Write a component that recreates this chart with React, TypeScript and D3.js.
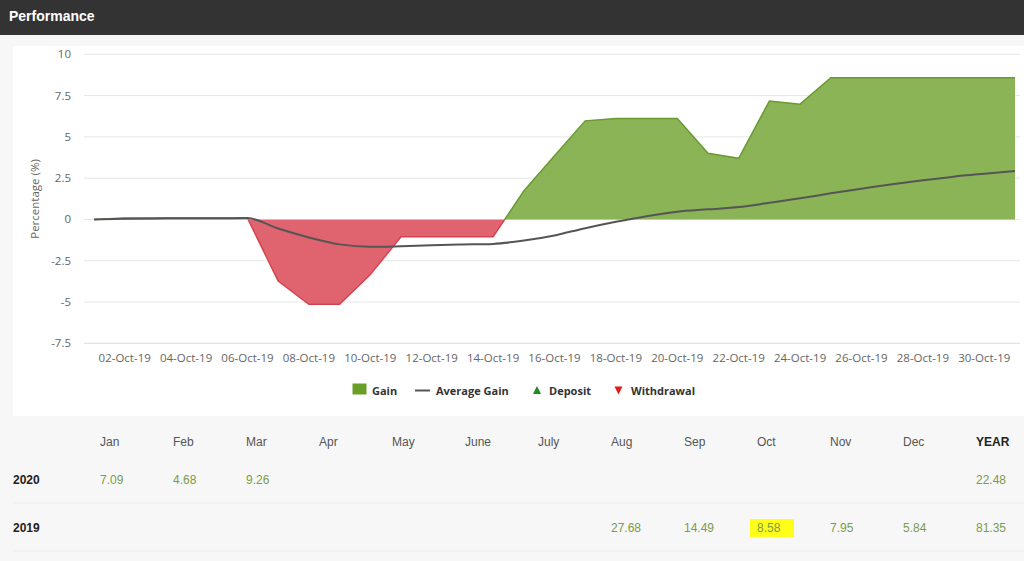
import * as d3 from "d3";

// Daily performance, October 2019
const DAYS = [
  "01-Oct-19", "02-Oct-19", "03-Oct-19", "04-Oct-19", "05-Oct-19", "06-Oct-19",
  "07-Oct-19", "08-Oct-19", "09-Oct-19", "10-Oct-19", "11-Oct-19", "12-Oct-19",
  "13-Oct-19", "14-Oct-19", "15-Oct-19", "16-Oct-19", "17-Oct-19", "18-Oct-19",
  "19-Oct-19", "20-Oct-19", "21-Oct-19", "22-Oct-19", "23-Oct-19", "24-Oct-19",
  "25-Oct-19", "26-Oct-19", "27-Oct-19", "28-Oct-19", "29-Oct-19", "30-Oct-19",
  "31-Oct-19",
];
const GAIN = [
  0, 0.08, 0.08, 0.08, 0.08, 0.08, -3.73, -5.14, -5.14, -3.34, -1.05, -1.05,
  -1.05, -1.05, 1.72, 3.85, 5.97, 6.11, 6.11, 6.11, 4.01, 3.7, 7.17, 6.98,
  8.58, 8.58, 8.58, 8.58, 8.58, 8.58, 8.58,
];
const AVERAGE_GAIN = [
  0, 0.04, 0.06, 0.07, 0.07, 0.08, -0.55, -1.09, -1.51, -1.66, -1.62, -1.56,
  -1.52, -1.48, -1.28, -0.97, -0.53, -0.14, 0.2, 0.47, 0.61, 0.75, 1.01, 1.28,
  1.58, 1.86, 2.13, 2.37, 2.59, 2.77, 2.94,
];
const Y_TICKS = [-7.5, -5, -2.5, 0, 2.5, 5, 7.5, 10];

// Monthly table
const COLUMNS = ["Jan", "Feb", "Mar", "Apr", "May", "June", "July", "Aug", "Sep", "Oct", "Nov", "Dec", "YEAR"];
const YEARS = ["2020", "2019"];
const MONTHLY_2020 = [7.09, 4.68, 9.26, null, null, null, null, null, null, null, null, null];
const MONTHLY_2019 = [null, null, null, null, null, null, null, 27.68, 14.49, 8.58, 7.95, 5.84];
const YEAR_TOTALS = [22.48, 81.35];
const HIGHLIGHT = { year: "2019", month: "Oct" };

const W = 1024;
const H = 561;
const CHART_FONT = "'Open Sans', 'DejaVu Sans', sans-serif";
const TABLE_FONT = "'Liberation Sans', Arial, sans-serif";

export default function App() {
  const x = d3.scalePoint<string>().domain(DAYS).range([94, 1015]);
  const y = d3.scaleLinear().domain([-7.5, 10]).range([343.3, 54.3]);
  const y0 = y(0);

  const area = d3
    .area<number>()
    .x((_, i) => x(DAYS[i])!)
    .y0(y0)
    .y1((d) => y(d));
  const top = d3
    .line<number>()
    .x((_, i) => x(DAYS[i])!)
    .y((d) => y(d));
  const avgLine = d3
    .line<number>()
    .x((_, i) => x(DAYS[i])!)
    .y((d) => y(d))
    .curve(d3.curveMonotoneX);

  const xLabels = DAYS.filter((_, i) => i % 2 === 1);

  const col = d3.scalePoint<string>().domain(COLUMNS).range([100, 976]);
  const headY = 446;
  const rows = [
    { year: YEARS[0], baseline: 484, sep: 503, values: [...MONTHLY_2020, YEAR_TOTALS[0]] },
    { year: YEARS[1], baseline: 532, sep: 551, values: [...MONTHLY_2019, YEAR_TOTALS[1]] },
  ];

  return (
    <div style={{ position: "fixed", left: 0, top: 0, width: W, height: H }}>
      <svg width={W} height={H} style={{ display: "block" }}>
        <defs>
          <clipPath id="above">
            <rect x={0} y={0} width={W} height={y0} />
          </clipPath>
          <clipPath id="below">
            <rect x={0} y={y0} width={W} height={H - y0} />
          </clipPath>
        </defs>

        {/* page */}
        <rect x={0} y={0} width={W} height={H} fill="#f7f7f7" />
        <rect x={0} y={0} width={W} height={35} fill="#333333" />
        <text x={9} y={20.5} fill="#ffffff" fontFamily={TABLE_FONT} fontWeight={700} fontSize={14}>
          Performance
        </text>
        <rect x={13} y={46} width={W - 13} height={370} fill="#ffffff" />

        {/* grid */}
        {Y_TICKS.map((t) => (
          <line
            key={t}
            x1={84}
            x2={1020}
            y1={y(t)}
            y2={y(t)}
            stroke={t === -7.5 ? "#d6dbe4" : "#e6e6e6"}
            strokeWidth={1}
          />
        ))}
        {Y_TICKS.map((t) => (
          <text
            key={t}
            x={71}
            y={y(t)}
            dy="0.35em"
            textAnchor="end"
            fill="#666666"
            fontFamily={CHART_FONT}
            fontSize={11.5}
          >
            {String(t)}
          </text>
        ))}
        <text
          transform={`translate(39,199) rotate(-90)`}
          textAnchor="middle"
          fill="#666666"
          fontFamily={CHART_FONT}
          fontSize={11.5}
        >
          Percentage (%)
        </text>
        {xLabels.map((d) => (
          <text
            key={d}
            x={x(d)}
            y={361.5}
            textAnchor="middle"
            fill="#666666"
            fontFamily={CHART_FONT}
            fontSize={11.5}
          >
            {d}
          </text>
        ))}

        {/* gain area, green above zero, red below */}
        <g clipPath="url(#above)">
          <path d={area(GAIN)!} fill="#8bb457" />
          <path d={top(GAIN)!} fill="none" stroke="#6a9a30" strokeWidth={1.5} />
        </g>
        <g clipPath="url(#below)">
          <path d={area(GAIN)!} fill="#e0646f" />
          <path d={top(GAIN)!} fill="none" stroke="#d4424f" strokeWidth={1.5} />
        </g>
        <path d={avgLine(AVERAGE_GAIN)!} fill="none" stroke="#555555" strokeWidth={2} />

        {/* legend */}
        <g fontFamily={CHART_FONT} fontWeight={700} fontSize={11} fill="#333333">
          <rect x={352.5} y={383.5} width={14} height={11} fill="#6a9e28" />
          <text x={372} y={394.5}>Gain</text>
          <line x1={415} x2={430} y1={390.5} y2={390.5} stroke="#555555" strokeWidth={2} />
          <text x={436} y={394.5}>Average Gain</text>
          <path d="M533,394 L541,394 L537,386 Z" fill="#1e8c1e" />
          <text x={549} y={394.5}>Deposit</text>
          <path d="M614.5,386.5 L622.5,386.5 L618.5,394.5 Z" fill="#e01b1b" />
          <text x={631} y={394.5}>Withdrawal</text>
        </g>

        {/* monthly table */}
        {COLUMNS.map((c) => (
          <text
            key={c}
            x={col(c)}
            y={headY}
            fill={c === "YEAR" ? "#222222" : "#555555"}
            fontWeight={c === "YEAR" ? 700 : 400}
            fontFamily={TABLE_FONT}
            fontSize={12}
          >
            {c}
          </text>
        ))}
        {rows.map((r) => (
          <g key={r.year}>
            <line x1={13} x2={W} y1={r.sep} y2={r.sep} stroke="#ebebeb" />
            {r.year === HIGHLIGHT.year && (
              <rect x={col(HIGHLIGHT.month)! - 7} y={r.baseline - 13} width={44} height={18} fill="#ffff1a" />
            )}
            <text x={13} y={r.baseline} fill="#222222" fontWeight={700} fontFamily={TABLE_FONT} fontSize={12}>
              {r.year}
            </text>
            {r.values.map((v, i) =>
              v == null ? null : (
                <text
                  key={i}
                  x={col(COLUMNS[i])}
                  y={r.baseline}
                  fill="#7a9c4a"
                  fontFamily={TABLE_FONT}
                  fontSize={12}
                >
                  {v.toFixed(2)}
                </text>
              )
            )}
          </g>
        ))}
      </svg>
    </div>
  );
}
